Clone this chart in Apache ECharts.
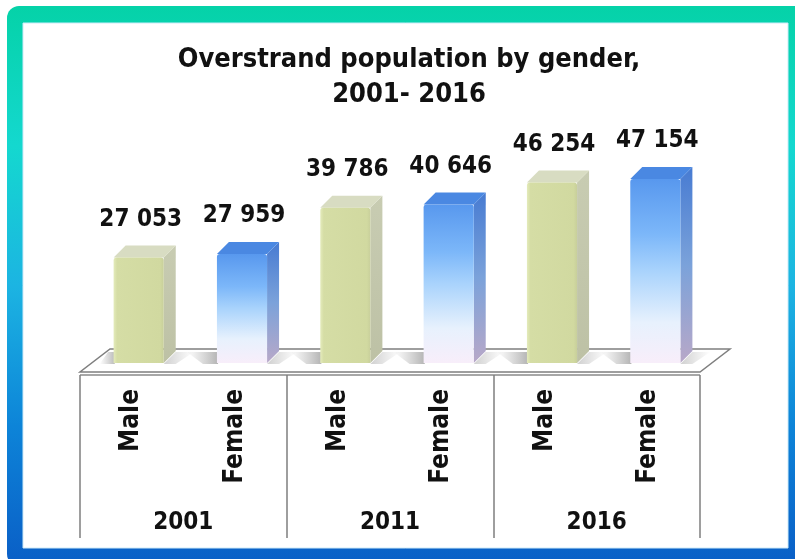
<!DOCTYPE html>
<html>
<head>
<meta charset="utf-8">
<script src="https://cdn.jsdelivr.net/npm/echarts@6/dist/echarts.min.js"></script>
<style>
html, body { margin: 0; padding: 0; background: #fff; }
#main { width: 795px; height: 559px; }
</style>
</head>
<body>
<div id="main"></div>
<script>
var categories = ['Male', 'Female', 'Male', 'Female', 'Male', 'Female'];
var years = ['2001', '2011', '2016'];
var population = [27053, 27959, 39786, 40646, 46254, 47154];

var FONT = '"DejaVu Sans Condensed", "DejaVu Sans", sans-serif';
var myChart = echarts.init(document.getElementById('main'));

function fmt(v) {
    return String(v).replace(/\B(?=(\d{3})+(?!\d))/g, ' ');
}

function grad(x, y, x2, y2, stops) {
    return new echarts.graphic.LinearGradient(x, y, x2, y2, stops.map(function (s) {
        return {offset: s[0], color: s[1]};
    }));
}

// left edge of the floor at a given y (floor is slanted)
function floorLeft(y) {
    return 80 + (372 - y) * 30 / 23 + 2;
}

// pseudo 3d bar: shadow, side, top, front, value label
function renderBar(params, api) {
    var idx = api.value(0);
    var v = api.value(1);
    var base = api.coord([idx, 0]);
    var top = api.coord([idx, v]);
    var w = api.size([1, 0])[0] * 0.485;
    var x0 = base[0] - w / 2 + 7;
    var x1 = x0 + w;
    var yb = base[1], yt = top[1];
    var dx = 12, dy = 12;
    var female = categories[idx] === 'Female';

    var frontFill, sideFill, capFill;
    if (female) {
        frontFill = grad(0, 0, 0, 1, [[0, '#5898ee'], [0.3, '#7cb7f9'], [0.5, '#a9d3fc'], [0.78, '#e7f1fd'], [1, '#f8eefa']]);
        sideFill = grad(0, 0, 0, 1, [[0, '#477bd2'], [0.5, '#7ba2da'], [1, '#b8a8c8']]);
        capFill = '#4a88e2';
    } else {
        frontFill = grad(0, 0, 1, 0, [[0, '#e4ebbb'], [0.07, '#d5dda5'], [0.93, '#d1d9a0'], [1, '#c8cf9b']]);
        sideFill = grad(0, 0, 0, 1, [[0, '#c8ccb2'], [1, '#bdc1a5']]);
        capFill = '#d8dcc2';
    }

    var sy0 = yb - 11, sy1 = yb + 1;
    var sl0 = Math.max(x0 - 30, floorLeft(sy0));
    var sl1 = Math.max(x0 - 14, floorLeft(sy1));

    return {
        type: 'group',
        children: [
            {
                type: 'polygon',
                shape: {points: [[sl0, sy0], [x0 + 4, sy0], [x0 + 1, sy1], [sl1, sy1]]},
                style: {fill: grad(0, 0, 1, 0, [[0, 'rgba(110,110,110,0)'], [1, 'rgba(90,90,90,0.5)']])}
            },
            {
                type: 'polygon',
                shape: {points: [[x1 + dx, sy0], [x1 + dx + 18, sy0], [x1 + 12, sy1], [x1, sy1]]},
                style: {fill: grad(0, 0, 1, 0, [[0, 'rgba(100,100,100,0.3)'], [1, 'rgba(100,100,100,0)']])}
            },
            {
                type: 'polygon',
                shape: {points: [[x1, yt], [x1 + dx, yt - dy], [x1 + dx, yb - dy], [x1, yb]]},
                style: {fill: sideFill}
            },
            {
                type: 'polygon',
                shape: {points: [[x0, yt], [x0 + dx, yt - dy], [x1 + dx, yt - dy], [x1, yt]]},
                style: {fill: capFill}
            },
            {
                type: 'rect',
                shape: {x: x0, y: yt, width: w, height: yb - yt, r: [3, 3, 0, 0]},
                style: {fill: frontFill}
            },
            {
                type: 'text',
                x: (x0 + x1) / 2 + 2,
                y: yt - 38,
                style: {
                    text: fmt(v),
                    fill: '#111',
                    font: 'bold 24px ' + FONT,
                    align: 'center',
                    verticalAlign: 'middle'
                }
            }
        ]
    };
}

var barData = population.map(function (v, i) { return [i, v]; });

option = {
    animation: false,
    title: {
        text: 'Overstrand population by gender,\n2001- 2016',
        left: 404,
        top: 37,
        textAlign: 'center',
        textStyle: {
            color: '#111',
            fontSize: 27,
            fontWeight: 'bold',
            fontFamily: FONT,
            lineHeight: 35
        }
    },
    graphic: [
        {
            type: 'rect',
            z: -10,
            shape: {x: 7, y: 6, width: 830, height: 560, r: 12},
            style: {fill: grad(0, 0, 0, 1, [[0, '#05d2a8'], [0.25, '#14d8cf'], [0.5, '#1cb4e2'], [0.75, '#0d84d8'], [1, '#0a5ec6']])}
        },
        {
            type: 'rect',
            z: -9,
            shape: {x: 23, y: 23, width: 765, height: 525},
            style: {fill: '#fff', stroke: '#cdeaf8', lineWidth: 1}
        },
        {
            type: 'polygon',
            z: -5,
            shape: {points: [[80, 372], [700, 372], [730, 349], [110, 349]]},
            style: {fill: '#fff', stroke: '#7f7f7f', lineWidth: 1.5}
        },
        {
            type: 'line',
            z: -5,
            shape: {x1: 80, y1: 375, x2: 700, y2: 375},
            style: {stroke: '#8a8a8a', lineWidth: 1.5}
        }
    ],
    grid: {
        left: 80,
        right: 95,
        top: 129,
        bottom: 196
    },
    xAxis: [
        {
            type: 'category',
            data: categories,
            position: 'bottom',
            offset: 12,
            axisLine: {show: false},
            axisTick: {show: false},
            axisLabel: {
                rotate: 90,
                margin: 14,
                color: '#111',
                fontSize: 26,
                fontWeight: 'bold',
                fontFamily: FONT
            }
        },
        {
            type: 'category',
            data: years,
            position: 'bottom',
            offset: 12,
            axisLine: {show: false},
            axisTick: {
                show: true,
                length: 163,
                lineStyle: {color: '#7f7f7f', width: 1.5}
            },
            axisLabel: {
                margin: 136,
                color: '#111',
                fontSize: 24,
                fontWeight: 'bold',
                fontFamily: FONT
            }
        }
    ],
    yAxis: {
        type: 'value',
        min: 0,
        max: 60000,
        show: false
    },
    series: [
        {
            type: 'custom',
            renderItem: renderBar,
            xAxisIndex: 0,
            data: barData
        }
    ]
};
myChart.setOption(option);
</script>
</body>
</html>
